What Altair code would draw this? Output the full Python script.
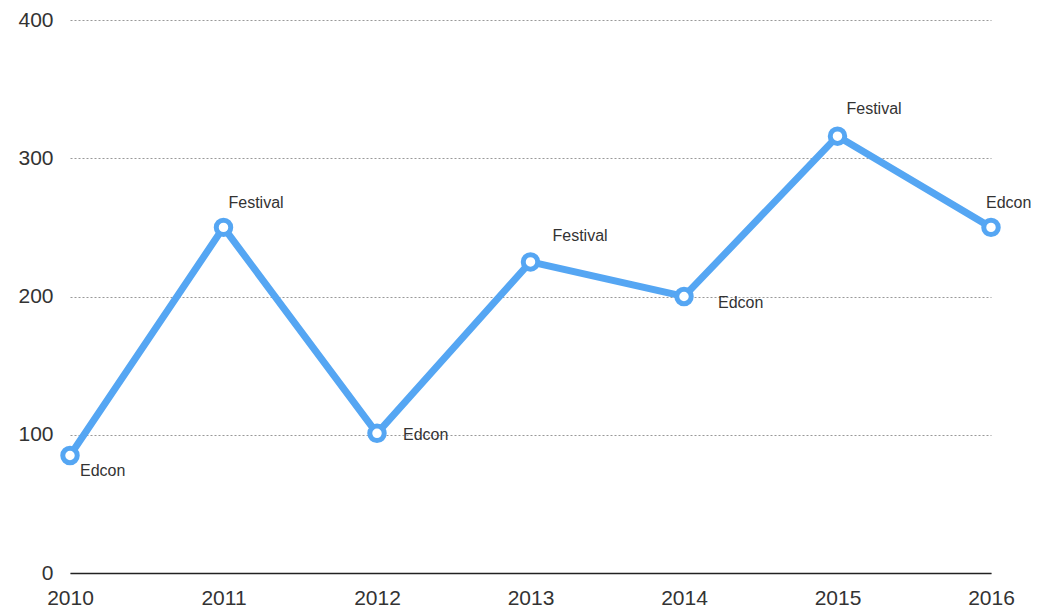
import altair as alt
import pandas as pd

years = [2010, 2011, 2012, 2013, 2014, 2015, 2016]
values = [85, 250, 101, 225, 200, 316, 250]
labels = ["Edcon", "Festival", "Edcon", "Festival", "Edcon", "Festival", "Edcon"]
y_ticks = [0, 100, 200, 300, 400]

df = pd.DataFrame({"year": years, "value": values, "label": labels})

BLUE = "#55a6f3"
FONT = "Liberation Sans"

x_enc = alt.X("year:Q", scale=alt.Scale(domain=[2010, 2016], nice=False, zero=False),
              axis=alt.Axis(values=years, format="d", title=None, grid=False, ticks=False,
                            domain=True, domainColor="#222222", domainWidth=1.5,
                            labelFontSize=21, labelColor="#333333", labelFont=FONT,
                            labelPadding=14, labelFlush=False))
y_enc = alt.Y("value:Q", scale=alt.Scale(domain=[0, 400], nice=False),
              axis=alt.Axis(values=y_ticks, title=None, domain=False, ticks=False,
                            grid=True, gridDash=[2, 2], gridColor="#999999", gridWidth=1,
                            labelFontSize=21, labelColor="#333333", labelFont=FONT,
                            labelPadding=17))

base = alt.Chart(df)

line = base.mark_line(color=BLUE, strokeWidth=7).encode(x=x_enc, y=y_enc)
pts = base.mark_point(shape="circle", filled=False, fill="white", fillOpacity=1,
                      stroke=BLUE, strokeWidth=5, size=210, opacity=1).encode(x="year:Q", y="value:Q")

# label offsets (dx, dy) per point
offsets = [(10, 16), (5, -24), (26, 2), (22, -26), (34, 6), (9, -27), (-5, -24)]
text_layers = []
for i, (dx, dy) in enumerate(offsets):
    t = alt.Chart(df.iloc[[i]]).mark_text(align="left", baseline="middle", dx=dx, dy=dy,
                                           font=FONT, fontSize=16, color="#333333").encode(
        x="year:Q", y="value:Q", text="label:N")
    text_layers.append(t)

chart = alt.layer(line, pts, *text_layers).properties(
    width=921, height=553,
    autosize=alt.AutoSizeParams(type="none"),
    padding={"left": 62, "top": 12, "right": 40, "bottom": 36},
).configure_view(stroke=None)

chart.save("out.html", embed_options={"renderer": "svg", "actions": False})
